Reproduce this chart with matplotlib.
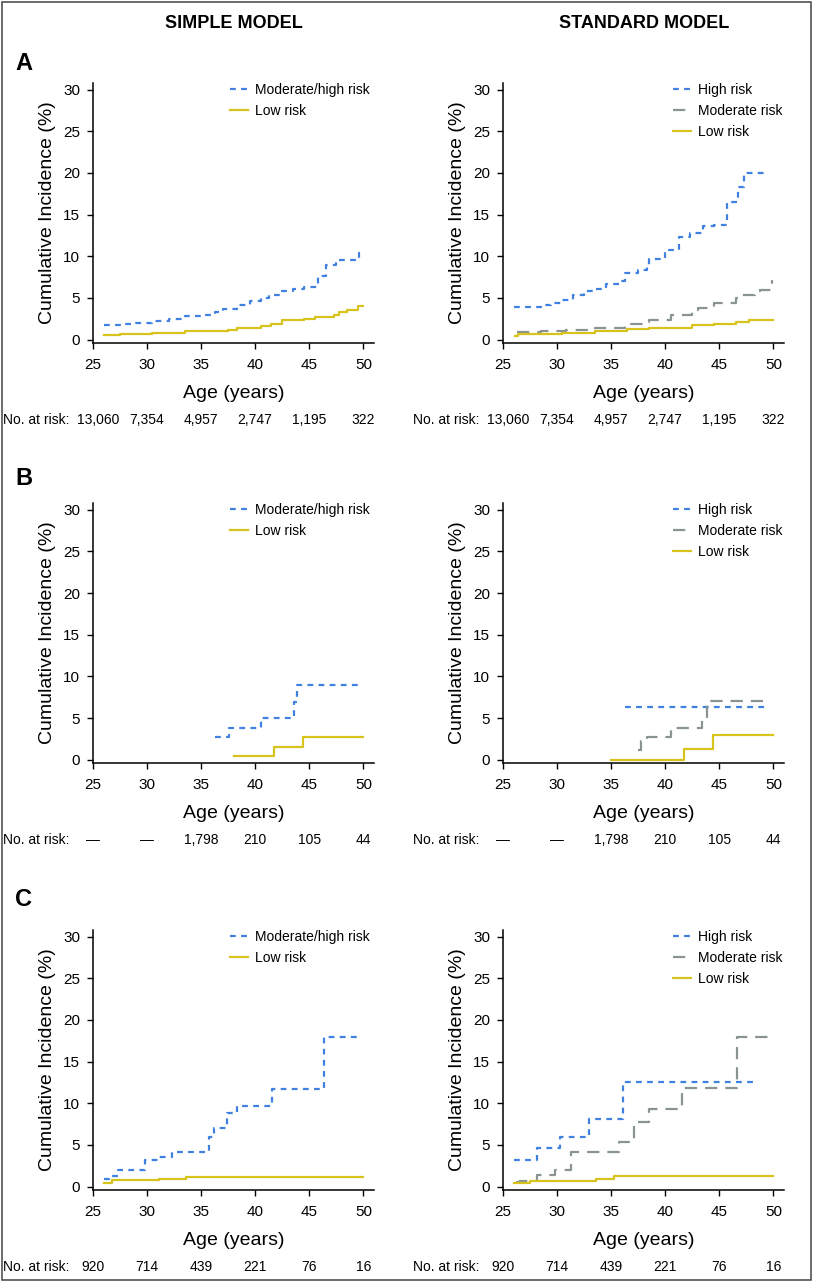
import matplotlib
matplotlib.use('Agg')
import matplotlib.pyplot as plt
import matplotlib.transforms as mtransforms
from matplotlib.patches import Rectangle

plt.rcParams['font.family'] = ['Liberation Sans', 'DejaVu Sans']

BLUE = '#3f80e0'
GRAY = '#8a9393'
GOLD = '#d8c21c'

age_ticks = [25, 30, 35, 40, 45, 50]
inc_ticks = [0, 5, 10, 15, 20, 25, 30]

# ---- panel A ----
at_risk_a = ['13,060', '7,354', '4,957', '2,747', '1,195', '322']
a_simple_mh_t = [26.0, 27.5, 29.0, 30.5, 32.0, 33.5, 35.0, 36.3, 37.0, 38.3, 39.5, 40.5,
                 41.3, 42.3, 43.5, 44.5, 45.8, 46.5, 47.5, 49.6, 49.7]
a_simple_mh_y = [1.7, 1.85, 2.0, 2.2, 2.5, 2.8, 3.0, 3.3, 3.7, 4.1, 4.6, 5.0,
                 5.4, 5.8, 6.1, 6.3, 7.6, 8.9, 9.6, 10.4, 10.4]
a_simple_low_t = [26.0, 27.5, 30.5, 33.5, 37.5, 38.3, 40.5, 41.5, 42.5, 44.5, 45.5,
                  47.3, 47.7, 48.5, 49.5, 50.0]
a_simple_low_y = [0.5, 0.65, 0.85, 1.0, 1.2, 1.4, 1.6, 1.9, 2.3, 2.5, 2.7,
                  2.9, 3.3, 3.6, 4.0, 4.0]
a_std_high_t = [26.0, 28.5, 29.5, 30.5, 31.5, 32.5, 33.5, 34.5, 35.8, 36.3, 37.5, 38.3,
                38.5, 40.0, 41.3, 42.3, 43.5, 44.5, 45.7, 46.7, 47.3, 49.3]
a_std_high_y = [3.9, 4.2, 4.4, 4.8, 5.3, 5.8, 6.1, 6.7, 7.0, 8.0, 8.3, 8.7,
                9.7, 10.8, 12.3, 12.8, 13.6, 13.8, 16.5, 18.3, 20.0, 20.0]
a_std_mod_t = [26.3, 28.5, 30.8, 33.5, 36.3, 36.8, 38.3, 38.5, 40.5, 42.5, 43.0,
               44.5, 46.5, 46.8, 48.3, 48.8, 49.9, 50.0]
a_std_mod_y = [0.9, 1.0, 1.2, 1.45, 1.7, 1.9, 2.1, 2.3, 3.0, 3.5, 3.8,
               4.4, 5.0, 5.3, 5.8, 6.0, 7.0, 7.0]
a_std_low_t = [26.1, 26.4, 30.5, 33.5, 36.5, 38.5, 42.5, 44.5, 46.5, 47.7, 50.0]
a_std_low_y = [0.4, 0.65, 0.85, 1.05, 1.25, 1.45, 1.7, 1.9, 2.1, 2.3, 2.3]

# ---- panel B ----
at_risk_b = ['\u2014', '\u2014', '1,798', '210', '105', '44']
b_simple_mh_t = [36.3, 37.6, 40.5, 43.6, 43.9, 49.9]
b_simple_mh_y = [2.7, 3.8, 5.0, 6.9, 9.0, 9.0]
b_simple_low_t = [38.0, 41.7, 44.4, 50.0]
b_simple_low_y = [0.4, 1.5, 2.7, 2.7]
b_std_high_t = [36.3, 49.6]
b_std_high_y = [6.3, 6.3]
b_std_mod_t = [37.5, 37.8, 38.3, 40.5, 43.4, 43.9, 49.7]
b_std_mod_y = [1.2, 2.2, 2.7, 3.8, 5.0, 7.0, 7.0]
b_std_low_t = [35.0, 41.7, 44.4, 50.0]
b_std_low_y = [0.0, 1.3, 3.0, 3.0]

# ---- panel C ----
at_risk_c = ['920', '714', '439', '221', '76', '16']
c_simple_mh_t = [26.0, 26.5, 27.3, 29.8, 31.0, 32.3, 35.7, 36.2, 37.4, 38.3, 41.6, 46.4, 49.7]
c_simple_mh_y = [0.87, 1.3, 2.0, 3.2, 3.6, 4.2, 5.9, 7.0, 8.8, 9.7, 11.7, 18.0, 18.0]
c_simple_low_t = [26.0, 26.8, 31.1, 33.6, 50.0]
c_simple_low_y = [0.45, 0.75, 0.95, 1.1, 1.1]
c_std_high_t = [26.0, 28.2, 30.3, 33.0, 36.1, 48.6]
c_std_high_y = [3.2, 4.6, 6.0, 8.1, 12.6, 12.6]
c_std_mod_t = [26.2, 26.6, 28.2, 29.8, 31.3, 35.7, 37.1, 38.5, 41.6, 46.6, 49.8]
c_std_mod_y = [0.5, 0.7, 1.4, 2.0, 4.2, 5.3, 7.7, 9.3, 11.8, 17.9, 17.9]
c_std_low_t = [26.0, 27.5, 33.6, 35.3, 50.0]
c_std_low_y = [0.45, 0.7, 0.9, 1.3, 1.3]

W, H = 814, 1282
fig = plt.figure(figsize=(W / 100, H / 100), dpi=100)

# frame around the whole figure
fig.patches.append(Rectangle((1.5 / W, 2 / H), 809 / W, 1278 / H, transform=fig.transFigure,
                             fill=False, edgecolor='#444444', linewidth=1.1))

fig.text(233.5 / W, 1 - 23 / H, 'SIMPLE MODEL', ha='center', va='center',
         fontsize=13, fontweight='bold')
fig.text(643.7 / W, 1 - 23 / H, 'STANDARD MODEL', ha='center', va='center',
         fontsize=13, fontweight='bold')

blue_ls = (0, (2.6, 2.4))
gray_ls = (0, (5.5, 3.6))

rows = [
    ('A', 64, 0.7325, at_risk_a,
     [(a_simple_mh_t, a_simple_mh_y, BLUE, blue_ls, 'Moderate/high risk'),
      (a_simple_low_t, a_simple_low_y, GOLD, '-', 'Low risk')],
     [(a_std_high_t, a_std_high_y, BLUE, blue_ls, 'High risk'),
      (a_std_mod_t, a_std_mod_y, GRAY, gray_ls, 'Moderate risk'),
      (a_std_low_t, a_std_low_y, GOLD, '-', 'Low risk')]),
    ('B', 479, 0.4048, at_risk_b,
     [(b_simple_mh_t, b_simple_mh_y, BLUE, blue_ls, 'Moderate/high risk'),
      (b_simple_low_t, b_simple_low_y, GOLD, '-', 'Low risk')],
     [(b_std_high_t, b_std_high_y, BLUE, blue_ls, 'High risk'),
      (b_std_mod_t, b_std_mod_y, GRAY, gray_ls, 'Moderate risk'),
      (b_std_low_t, b_std_low_y, GOLD, '-', 'Low risk')]),
    ('C', 900, 0.0718, at_risk_c,
     [(c_simple_mh_t, c_simple_mh_y, BLUE, blue_ls, 'Moderate/high risk'),
      (c_simple_low_t, c_simple_low_y, GOLD, '-', 'Low risk')],
     [(c_std_high_t, c_std_high_y, BLUE, blue_ls, 'High risk'),
      (c_std_mod_t, c_std_mod_y, GRAY, gray_ls, 'Moderate risk'),
      (c_std_low_t, c_std_low_y, GOLD, '-', 'Low risk')]),
]

ax_w = 281.6 / W
ax_h = 260 / H
for letter, letter_y, bottom, at_risk, simple_curves, std_curves in rows:
    fig.text(24 / W, 1 - letter_y / H, letter, ha='center', va='center',
             fontsize=17, fontweight='bold')
    for x0, curves, leg_x in [(92.7 / W, simple_curves, 0.487), (502.7 / W, std_curves, 0.604)]:
        ax = fig.add_axes([x0, bottom, ax_w, ax_h])
        for t, y, col, ls, lab in curves:
            ax.step(t, y, where='post', color=col, linestyle=ls, linewidth=1.6, label=lab)
        ax.set_xlim(25, 51)
        ax.set_ylim(-0.4, 30.8)
        ax.set_xticks(age_ticks)
        ax.set_yticks(inc_ticks)
        for s in ['top', 'right']:
            ax.spines[s].set_visible(False)
        for s in ['left', 'bottom']:
            ax.spines[s].set_linewidth(1.1)
        ax.tick_params(direction='out', length=4, width=1, labelsize=11, pad=5)
        ax.tick_params(axis='x', pad=7)
        ax.set_xlabel('Age (years)', fontsize=14)
        ax.xaxis.set_label_coords(0.5, -0.16)
        ax.set_ylabel('Cumulative Incidence (%)', fontsize=14)
        ax.yaxis.set_label_coords(-0.13, 0.5)
        ax.legend(loc='upper left', bbox_to_anchor=(leg_x, 1.0), frameon=False, fontsize=10,
                  borderpad=0, borderaxespad=0, handlelength=1.3, handletextpad=0.5,
                  labelspacing=0.5)
        # number at risk row
        trans = mtransforms.blended_transform_factory(ax.transData, ax.transAxes)
        ax.text(-90 / 281.6, -0.295, 'No. at risk:', transform=ax.transAxes,
                ha='left', va='center', fontsize=10)
        for i, (a, n) in enumerate(zip(age_ticks, at_risk)):
            # first count sits a little right of its tick when it is wide
            xa = a + 0.5 if (i == 0 and len(n) > 3) else a
            ax.text(xa, -0.295, n, transform=trans, ha='center', va='center', fontsize=10)

fig.savefig('out.png', dpi=100)
